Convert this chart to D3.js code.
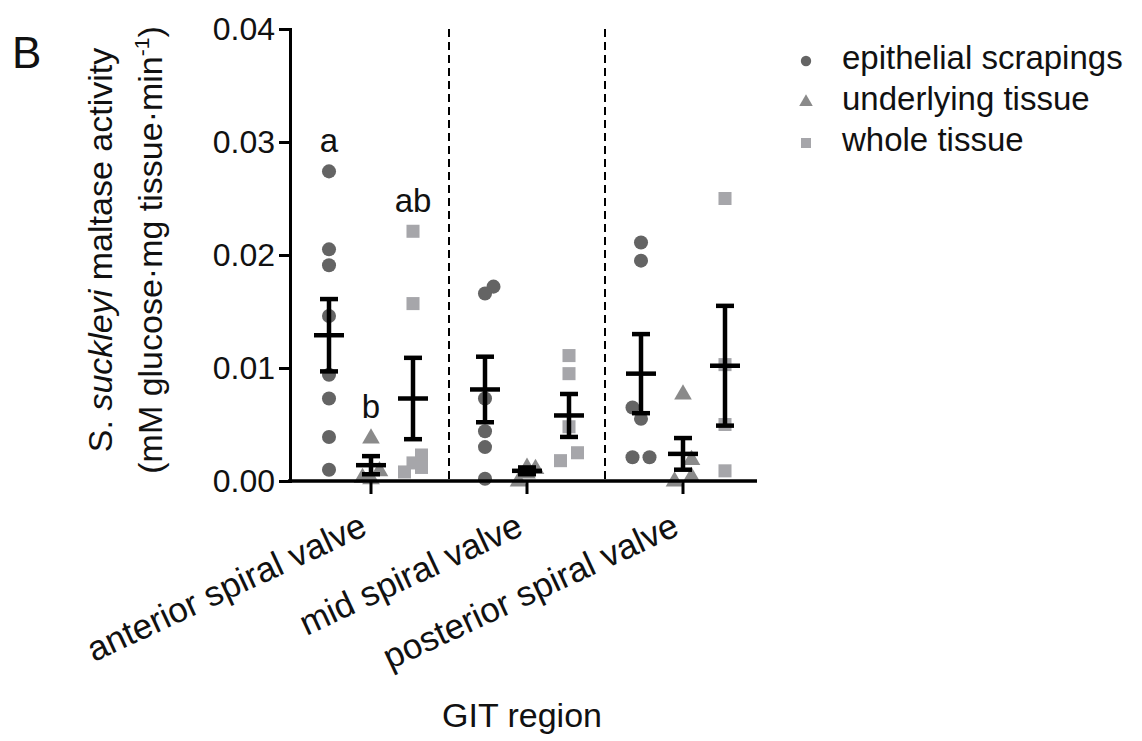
<!DOCTYPE html>
<html><head><meta charset="utf-8">
<script src="https://cdn.jsdelivr.net/npm/d3@7"></script>
<style>
html,body{margin:0;padding:0;background:#fff;}
text{font-family:"Liberation Sans",Arial,sans-serif;fill:#111;}
</style></head>
<body>
<svg id="chart" width="1142" height="741"></svg>
<script>
// ---------- data ----------
const groups = ["anterior spiral valve", "mid spiral valve", "posterior spiral valve"];
const series = ["epithelial scrapings", "underlying tissue", "whole tissue"];
const yTicks = [0.00, 0.01, 0.02, 0.03, 0.04];

// individual values per group (anterior, mid, posterior)
const epithelialValues = [
  [0.0274, 0.0205, 0.0191, 0.0146, 0.0094, 0.0073, 0.0039, 0.0010],
  [0.0172, 0.0166, 0.0073, 0.0044, 0.0030, 0.0002],
  [0.0211, 0.0195, 0.0065, 0.0055, 0.0021, 0.0021]
];
const underlyingValues = [
  [0.0039, 0.0010, 0.0004, 0.0003],
  [0.0013, 0.0012, 0.0008, 0.0001],
  [0.0078, 0.0020, 0.0005, 0.0001]
];
const wholeValues = [
  [0.0221, 0.0157, 0.0023, 0.0016, 0.0012, 0.0008],
  [0.0111, 0.0095, 0.0048, 0.0025, 0.0018],
  [0.0250, 0.0103, 0.0050, 0.0009]
];
// side-by-side spread index of overlapping points
const epithelialSpread = [[0,0,0,0,0,0,0,0],[1,0,0,0,0,0],[0,0,-1,0,-1,1]];
const underlyingSpread = [[0,1,-1,0],[0,1,0,-1],[0,1,1,-1]];
const wholeSpread = [[0,0,1,0,1,-1],[0,0,0,1,-1],[0,0,0,0]];

// mean ± SEM
const epithelialMean = [0.0129, 0.0081, 0.0095];
const epithelialSEM  = [0.0032, 0.0029, 0.0035];
const underlyingMean = [0.0014, 0.0009, 0.0024];
const underlyingSEM  = [0.0008, 0.0003, 0.0014];
const wholeMean = [0.0073, 0.0058, 0.0102];
const wholeSEM  = [0.0036, 0.0019, 0.0053];

// significance letters (anterior group only)
const sigLetters = [["a", "b", "ab"], ["", "", ""], ["", "", ""]];

// ---------- build ----------
const allValues = [epithelialValues, underlyingValues, wholeValues];
const allSpread = [epithelialSpread, underlyingSpread, wholeSpread];
const allMean = [epithelialMean, underlyingMean, wholeMean];
const allSEM = [epithelialSEM, underlyingSEM, wholeSEM];
const colors = ["#646464", "#8a8a8a", "#a6a6aa"];
const shapes = [d3.symbolCircle, d3.symbolTriangle, d3.symbolSquare];
const shapeSize = [155, 135, 170];

const svg = d3.select("#chart");
const y = d3.scaleLinear().domain([0, 0.04]).range([481, 29]);
const xg = d3.scaleBand().domain(groups).range([293, 761]);
const xs = d3.scalePoint().domain(series).range([-42, 42]);
const colX = (gi, si) => xg(groups[gi]) + xg.bandwidth() / 2 + xs(series[si]);
const spreadPx = 8.5;
const FONT = "Liberation Sans, Arial, sans-serif";

// dashed separators
svg.append("g").selectAll("line").data(groups.slice(1)).join("line")
  .attr("x1", d => xg(d)).attr("x2", d => xg(d))
  .attr("y1", y(0.04)).attr("y2", y(0))
  .attr("stroke", "#000").attr("stroke-width", 2).attr("stroke-dasharray", "8,5");

// points
const pts = [];
allValues.forEach((sv, si) => sv.forEach((vals, gi) => vals.forEach((v, k) =>
  pts.push({si, gi, v, sp: allSpread[si][gi][k]}))));
svg.append("g").selectAll("path").data(pts).join("path")
  .attr("d", d => d3.symbol(shapes[d.si], shapeSize[d.si])())
  .attr("transform", d => `translate(${colX(d.gi, d.si) + d.sp * spreadPx},${y(d.v) + (d.si === 1 ? 1.5 : 0)})`)
  .attr("fill", d => colors[d.si]);

// error bars
const bars = [];
allMean.forEach((m, si) => m.forEach((mv, gi) => bars.push({si, gi, m: mv, e: allSEM[si][gi]})));
const eb = svg.append("g").selectAll("g").data(bars).join("g")
  .attr("transform", d => `translate(${colX(d.gi, d.si)},0)`)
  .attr("stroke", "#000").attr("stroke-width", 4.5);
eb.append("line").attr("x1", 0).attr("x2", 0).attr("y1", d => y(d.m + d.e)).attr("y2", d => y(d.m - d.e));
eb.append("line").attr("x1", -9).attr("x2", 9).attr("y1", d => y(d.m + d.e)).attr("y2", d => y(d.m + d.e));
eb.append("line").attr("x1", -9).attr("x2", 9).attr("y1", d => y(d.m - d.e)).attr("y2", d => y(d.m - d.e));
eb.append("line").attr("x1", -15).attr("x2", 15).attr("y1", d => y(d.m)).attr("y2", d => y(d.m));

// significance letters
const letters = [];
sigLetters.forEach((row, gi) => row.forEach((t, si) => { if (t) letters.push({gi, si, t, top: d3.max(allValues[si][gi])}); }));
svg.append("g").selectAll("text").data(letters).join("text")
  .attr("x", d => colX(d.gi, d.si)).attr("y", d => y(d.top) - 19)
  .attr("text-anchor", "middle").attr("font-size", 33).text(d => d.t);

// y axis
const yAxis = svg.append("g").attr("transform", "translate(290,0)")
  .call(d3.axisLeft(y).tickValues(yTicks).tickFormat(d3.format(".2f")).tickSize(11).tickSizeOuter(0).tickPadding(4));
yAxis.select(".domain").attr("stroke-width", 3).attr("stroke-linecap", "square");
yAxis.selectAll(".tick line").attr("stroke-width", 3);
yAxis.selectAll(".tick text").attr("font-size", 32).attr("font-family", FONT).attr("fill", "#111");

// x axis
const xAxis = svg.append("g").attr("transform", `translate(0,${y(0)})`)
  .call(d3.axisBottom(xg).tickSize(13).tickSizeOuter(0));
xAxis.select(".domain").attr("d", "M288,0H757").attr("stroke-width", 3.5);
xAxis.selectAll(".tick line").attr("stroke-width", 3);
xAxis.selectAll(".tick text")
  .attr("font-size", 35).attr("font-family", FONT).attr("fill", "#111")
  .attr("text-anchor", "end").attr("x", 0).attr("y", 0).attr("dy", 0)
  .attr("transform", "translate(-2,53) rotate(-25)");

// axis titles
svg.append("text").attr("x", 522).attr("y", 727).attr("text-anchor", "middle")
  .attr("font-size", 34).text("GIT region");

const yt1 = svg.append("text").attr("transform", "translate(112,250) rotate(-90)")
  .attr("text-anchor", "middle").attr("font-size", 34);
yt1.append("tspan").text("S. ");
yt1.append("tspan").attr("font-style", "italic").text("suckleyi");
yt1.append("tspan").text(" maltase activity");
const yt2 = svg.append("text").attr("transform", "translate(162,250) rotate(-90)")
  .attr("text-anchor", "middle").attr("font-size", 34);
yt2.append("tspan").text("(mM glucose·mg tissue·min");
yt2.append("tspan").attr("font-size", 21).attr("dy", -13).text("-1");
yt2.append("tspan").attr("dy", 13).text(")");

// panel letter
svg.append("text").attr("x", 12).attr("y", 68).attr("font-size", 44).text("B");

// legend
const lg = svg.append("g").selectAll("g").data(series).join("g")
  .attr("transform", (d, i) => `translate(806,${61 + i * 41})`);
lg.append("path").attr("d", (d, i) => d3.symbol(shapes[i], [85, 80, 100][i])())
  .attr("fill", (d, i) => colors[i]);
lg.append("text").attr("x", 36).attr("y", 8).attr("font-size", 33).text(d => d);
</script>
</body></html>
